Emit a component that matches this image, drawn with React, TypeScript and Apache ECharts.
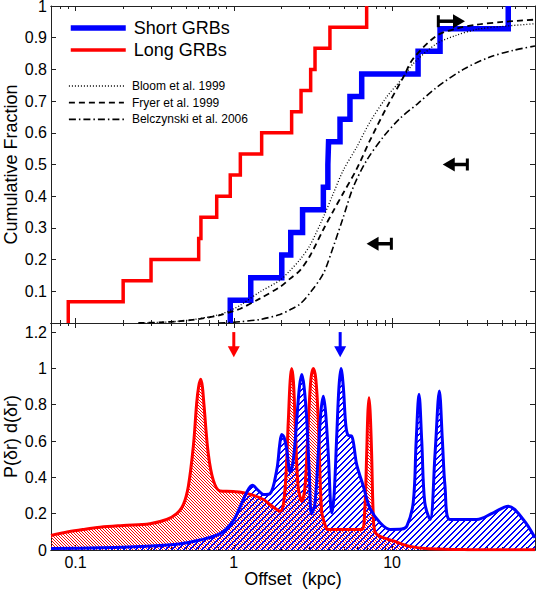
import React, { useEffect, useRef } from 'react';
import * as echarts from 'echarts';

// ---------- data ----------
// offsets (kpc) of the steps of the cumulative distributions
const shortOffsets = [0.95, 1.28, 2.01, 2.29, 2.72, 3.68, 3.93, 3.97, 4.69, 5.42, 6.43, 14.6, 20.1, 54.2];
const longOffsets = [0.09, 0.2, 0.3, 0.6, 0.62, 0.78, 0.95, 1.1, 1.5, 2.32, 2.66, 3.06, 3.26, 4.05, 6.91];

// model cumulative distributions
const modelX = [0.25, 0.34, 0.46, 0.61, 0.82, 1.0, 1.1, 1.46, 1.96, 2.27, 2.62, 3.03, 3.68, 4.25, 4.92, 5.98, 7.25, 9.24, 11.8, 13.6, 19.1, 25.6, 34.2, 50.4, 80];
const bloom = [0, 0.002, 0.006, 0.014, 0.027, 0.045, 0.056, 0.098, 0.135, 0.166, 0.2, 0.245, 0.334, 0.408, 0.482, 0.555, 0.634, 0.713, 0.776, 0.818, 0.881, 0.908, 0.926, 0.936, 0.944];
const fryer = [0, 0.002, 0.006, 0.013, 0.025, 0.038, 0.045, 0.077, 0.114, 0.14, 0.166, 0.212, 0.295, 0.353, 0.41, 0.486, 0.576, 0.68, 0.776, 0.834, 0.906, 0.929, 0.941, 0.95, 0.957];
const belczynskiX = [0.8, 1.0, 1.1, 1.46, 1.96, 2.27, 2.62, 3.03, 3.68, 4.25, 4.92, 5.69, 6.91, 8.8, 11.2, 14.6, 19.1, 28.2, 41.5, 58.3, 80];
const belczynski = [0, 0.002, 0.004, 0.011, 0.027, 0.042, 0.06, 0.095, 0.156, 0.24, 0.334, 0.429, 0.513, 0.587, 0.645, 0.693, 0.743, 0.8, 0.839, 0.86, 0.874];

// limit arrows in the upper panel: bar end, arrow tip, fraction
const limitFrom = [9.9, 29.9, 19.6];
const limitTo = [6.9, 20.9, 28.9];
const limitY = [0.25, 0.5, 0.952];

// probability distributions (lower panel)
const longPdfX = [0.07, 0.09, 0.112, 0.143, 0.2, 0.295, 0.377, 0.436, 0.48, 0.516, 0.555, 0.583, 0.6, 0.618, 0.633, 0.648, 0.69, 0.742, 0.818, 0.99, 1.21, 1.54, 1.69, 1.96, 2.1, 2.21, 2.27, 2.32, 2.38, 2.44, 2.55, 2.69, 2.82, 2.96, 3.07, 3.18, 3.3, 3.42, 3.59, 3.8, 3.95, 6.4, 6.7, 6.91, 7.03, 7.15, 7.28, 7.43, 7.6, 7.8, 8.4, 10.2, 13, 17, 30, 80];
const longPdfY = [0.08, 0.1, 0.113, 0.125, 0.135, 0.145, 0.168, 0.2, 0.25, 0.35, 0.57, 0.81, 0.9, 0.94, 0.9, 0.8, 0.53, 0.385, 0.325, 0.322, 0.312, 0.278, 0.25, 0.214, 0.32, 0.71, 0.93, 1.0, 0.93, 0.71, 0.35, 0.27, 0.35, 0.71, 0.94, 1.0, 0.94, 0.71, 0.214, 0.13, 0.113, 0.113, 0.2, 0.526, 0.75, 0.838, 0.75, 0.526, 0.2, 0.1, 0.075, 0.05, 0.02, 0.007, 0.002, 0.001];
const shortPdfX = [0.07, 0.143, 0.3, 0.46, 0.61, 0.82, 0.99, 1.1, 1.21, 1.31, 1.42, 1.54, 1.69, 1.87, 1.95, 2.01, 2.08, 2.16, 2.27, 2.38, 2.5, 2.6, 2.69, 2.78, 2.89, 3.0, 3.1, 3.25, 3.42, 3.55, 3.68, 3.8, 3.95, 4.16, 4.3, 4.47, 4.62, 4.76, 4.92, 5.11, 5.3, 5.56, 5.98, 6.58, 7.25, 8.4, 9.7, 11.5, 12.4, 13.6, 14.2, 14.8, 15.4, 16.1, 17.4, 18.7, 19.9, 20.8, 21.6, 23.2, 34.2, 43.6, 54.2, 67.4, 80];
const shortPdfY = [0.008, 0.012, 0.022, 0.035, 0.055, 0.09, 0.16, 0.24, 0.32, 0.357, 0.33, 0.306, 0.31, 0.443, 0.58, 0.636, 0.62, 0.554, 0.43, 0.5, 0.719, 0.9, 0.967, 0.9, 0.719, 0.42, 0.2, 0.25, 0.535, 0.76, 0.847, 0.76, 0.535, 0.205, 0.3, 0.627, 0.9, 1.0, 0.9, 0.682, 0.63, 0.627, 0.47, 0.352, 0.23, 0.15, 0.113, 0.115, 0.131, 0.26, 0.6, 0.857, 0.6, 0.26, 0.168, 0.535, 0.875, 0.6, 0.352, 0.168, 0.168, 0.205, 0.241, 0.168, 0.067];

// median arrows (lower panel): offset, arrow top, arrow tip
const medianX = [1.0, 4.7];
const medianTop = [1.2, 1.2];
const medianTip = [1.061, 1.061];
const medianColors = ['#ff0000', '#0000ff'];

// axis range and ticks (kpc)
const xMin = 0.07;
const xMax = 80;
const xMinorTicks = [0.08, 0.09, 0.2, 0.3, 0.4, 0.5, 0.6, 0.7, 0.8, 0.9, 2, 3, 4, 5, 6, 7, 8, 9, 20, 30, 40, 50, 60, 70];
const xMajorTicks = [0.1, 1, 10];
const xTickLabels = [0.1, 1, 10];

const FONT = "'Liberation Sans', Arial, Helvetica, sans-serif";
const AXIS_COLOR = '#222';

function zip(xs: number[], ys: number[]) {
  return xs.map((x, i) => [x, ys[i]]);
}

function stairs(offsets: number[]) {
  const n = offsets.length;
  const pts: number[][] = [[offsets[0], 0]];
  offsets.forEach((x, i) => {
    if (i > 0) pts.push([x, i / n]);
    pts.push([x, (i + 1) / n]);
  });
  return pts;
}

function hatch(color: string, size: number, width: number, forward: boolean) {
  const c = document.createElement('canvas');
  c.width = size;
  c.height = size;
  const ctx = c.getContext('2d')!;
  ctx.fillStyle = color;
  for (let i = 0; i < size; i++) {
    for (let j = 0; j < size; j++) {
      const k = forward ? (i + j) % size : (((i - j) % size) + size) % size;
      if (k < width) ctx.fillRect(i, j, 1, 1);
    }
  }
  return { image: c.toDataURL(), repeat: 'repeat', imageWidth: size, imageHeight: size };
}

function xAxis(gridIndex: number, position: string, ticks: number[], len: number, labels: boolean, name?: string) {
  return {
    type: 'log',
    logBase: 10,
    gridIndex,
    position,
    min: xMin,
    max: xMax,
    name: name || '',
    nameLocation: 'middle',
    nameGap: 20,
    nameMoveOverlap: false,
    nameTextStyle: { fontSize: 18, color: '#000', fontFamily: FONT },
    axisLine: { show: true, onZero: false, lineStyle: { color: AXIS_COLOR, width: 1 } },
    axisTick: { show: true, inside: true, length: len, customValues: ticks, lineStyle: { color: AXIS_COLOR, width: 1 } },
    axisLabel: labels
      ? { show: true, customValues: xTickLabels, fontSize: 16, color: '#000', fontFamily: FONT, margin: 4 }
      : { show: false },
    splitLine: { show: false },
    minorTick: { show: false },
    minorSplitLine: { show: false },
  };
}

function yAxis(gridIndex: number, position: string, max: number, interval: number, labels: boolean, name?: string, hideMin?: boolean) {
  return {
    type: 'value',
    gridIndex,
    position,
    min: 0,
    max,
    interval,
    name: name || '',
    nameLocation: 'middle',
    nameGap: 31,
    nameMoveOverlap: false,
    nameTextStyle: { fontSize: 18, color: '#000', fontFamily: FONT, lineHeight: 18 },
    axisLine: { show: true, onZero: false, lineStyle: { color: AXIS_COLOR, width: 1 } },
    axisTick: { show: true, inside: true, length: 5, lineStyle: { color: AXIS_COLOR, width: 1 } },
    axisLabel: labels
      ? {
          show: true,
          fontSize: 16,
          lineHeight: 12,
          color: '#000',
          fontFamily: FONT,
          margin: 4,
          showMinLabel: !hideMin,
          showMaxLabel: max === 1,
        }
      : { show: false },
    splitLine: { show: false },
  };
}

export default function App() {
  const ref = useRef<HTMLDivElement>(null);

  useEffect(() => {
    document.body.style.margin = '0';
    const chart = echarts.init(ref.current!, undefined, { renderer: 'svg' });

    const redHatch = hatch('#ff0000', 3, 1, false);
    const blueHatch = hatch('#0000ff', 6, 2, true);

    const arrowData = limitY.map((y, i) => [limitFrom[i], limitTo[i], y]);
    const medianData = medianX.map((x, i) => [x, medianTop[i], medianTip[i]]);

    const legendCommon = {
      orient: 'vertical',
      left: 68,
      padding: 0,
      itemWidth: 55,
      selectedMode: false,
      lineStyle: { width: 'inherit' },
      itemStyle: { opacity: 0 },
    };

    const option: any = {
      animation: false,
      backgroundColor: '#fff',
      textStyle: { fontFamily: FONT },
      grid: [
        { left: 51, top: 6, width: 484, height: 317, containLabel: false, outerBoundsMode: 'none' },
        { left: 51, top: 323, width: 484, height: 227, containLabel: false, outerBoundsMode: 'none' },
      ],
      xAxis: [
        xAxis(0, 'bottom', xMinorTicks, 3, false),
        xAxis(0, 'bottom', xMajorTicks, 5, false),
        xAxis(0, 'top', xMinorTicks, 3, false),
        xAxis(0, 'top', xMajorTicks, 5, false),
        xAxis(1, 'bottom', xMinorTicks, 3, false),
        xAxis(1, 'bottom', xMajorTicks, 5, true, 'Offset  (kpc)'),
        xAxis(1, 'top', xMinorTicks, 3, false),
        xAxis(1, 'top', xMajorTicks, 5, false),
      ],
      yAxis: [
        yAxis(0, 'left', 1, 0.1, true, 'Cumulative Fraction', true),
        yAxis(0, 'right', 1, 0.1, false),
        yAxis(1, 'left', 1.25, 0.2, true, 'P(δr) d(δr)', false),
        yAxis(1, 'right', 1.25, 0.2, false),
      ],
      legend: [
        {
          ...legendCommon,
          data: ['Short GRBs', 'Long GRBs'],
          top: 19,
          itemHeight: 18,
          itemGap: 4,
          textStyle: { fontSize: 18, color: '#000', fontFamily: FONT, padding: [0, 0, 0, 3] },
        },
        {
          ...legendCommon,
          data: ['Bloom et al. 1999', 'Fryer et al. 1999', 'Belczynski et al. 2006'],
          top: 80,
          itemHeight: 12,
          itemGap: 4.7,
          textStyle: { fontSize: 12, color: '#000', fontFamily: FONT, padding: [0, 0, 0, 3] },
        },
      ],
      series: [
        {
          name: 'Short GRBs',
          type: 'line',
          xAxisIndex: 0,
          yAxisIndex: 0,
          data: stairs(shortOffsets),
          symbol: 'none',
          color: '#0000ff',
          lineStyle: { color: '#0000ff', width: 5.5, join: 'miter' },
          z: 2,
        },
        {
          name: 'Long GRBs',
          type: 'line',
          xAxisIndex: 0,
          yAxisIndex: 0,
          data: stairs(longOffsets),
          symbol: 'none',
          color: '#ff0000',
          lineStyle: { color: '#ff0000', width: 3.5, join: 'miter' },
          z: 2,
        },
        {
          name: 'Bloom et al. 1999',
          type: 'line',
          xAxisIndex: 0,
          yAxisIndex: 0,
          data: zip(modelX, bloom),
          symbol: 'none',
          smooth: 0.3,
          color: '#000',
          lineStyle: { color: '#000', width: 1.3, type: [1, 2] },
          z: 3,
        },
        {
          name: 'Fryer et al. 1999',
          type: 'line',
          xAxisIndex: 0,
          yAxisIndex: 0,
          data: zip(modelX, fryer),
          symbol: 'none',
          smooth: 0.3,
          color: '#000',
          lineStyle: { color: '#000', width: 1.8, type: [6, 4] },
          z: 3,
        },
        {
          name: 'Belczynski et al. 2006',
          type: 'line',
          xAxisIndex: 0,
          yAxisIndex: 0,
          data: zip(belczynskiX, belczynski),
          symbol: 'none',
          smooth: 0.3,
          color: '#000',
          lineStyle: { color: '#000', width: 1.6, type: [7, 3, 1.5, 3] },
          z: 3,
        },
        {
          name: 'limits',
          type: 'custom',
          xAxisIndex: 0,
          yAxisIndex: 0,
          encode: { x: [0, 1], y: 2 },
          data: arrowData,
          z: 4,
          renderItem: (params: any, api: any) => {
            const y = api.value(2);
            const p0 = api.coord([api.value(0), y]);
            const p1 = api.coord([api.value(1), y]);
            const dir = p1[0] > p0[0] ? 1 : -1;
            const head = 12;
            const half = 7;
            return {
              type: 'group',
              children: [
                {
                  type: 'line',
                  shape: { x1: p0[0], y1: p0[1], x2: p1[0] - dir * (head - 1), y2: p1[1] },
                  style: { stroke: '#000', lineWidth: 3.5 },
                },
                {
                  type: 'line',
                  shape: { x1: p0[0], y1: p0[1] - 6, x2: p0[0], y2: p0[1] + 6 },
                  style: { stroke: '#000', lineWidth: 3 },
                },
                {
                  type: 'polygon',
                  shape: { points: [[p1[0], p1[1]], [p1[0] - dir * head, p1[1] - half], [p1[0] - dir * head, p1[1] + half]] },
                  style: { fill: '#000' },
                },
              ],
            };
          },
        },
        // lower panel: hatched areas
        {
          name: 'Long PDF area',
          type: 'line',
          xAxisIndex: 4,
          yAxisIndex: 2,
          data: zip(longPdfX, longPdfY),
          symbol: 'none',
          smooth: 0.35,
          lineStyle: { width: 0 },
          areaStyle: { color: redHatch, opacity: 1 },
          z: 1,
        },
        {
          name: 'Short PDF area',
          type: 'line',
          xAxisIndex: 4,
          yAxisIndex: 2,
          data: zip(shortPdfX, shortPdfY),
          symbol: 'none',
          smooth: 0.35,
          lineStyle: { width: 0 },
          areaStyle: { color: blueHatch, opacity: 1 },
          z: 1,
        },
        {
          name: 'Long PDF',
          type: 'line',
          xAxisIndex: 4,
          yAxisIndex: 2,
          data: zip(longPdfX, longPdfY),
          symbol: 'none',
          smooth: 0.35,
          lineStyle: { color: '#ff0000', width: 3 },
          z: 2,
        },
        {
          name: 'Short PDF',
          type: 'line',
          xAxisIndex: 4,
          yAxisIndex: 2,
          data: zip(shortPdfX, shortPdfY),
          symbol: 'none',
          smooth: 0.35,
          lineStyle: { color: '#0000ff', width: 3 },
          z: 2,
        },
        {
          name: 'medians',
          type: 'custom',
          xAxisIndex: 4,
          yAxisIndex: 2,
          encode: { x: 0, y: [1, 2] },
          data: medianData,
          z: 4,
          renderItem: (params: any, api: any) => {
            const x = api.value(0);
            const pTop = api.coord([x, api.value(1)]);
            const pTip = api.coord([x, api.value(2)]);
            const color = medianColors[params.dataIndex];
            const head = 11;
            const half = 6;
            return {
              type: 'group',
              children: [
                {
                  type: 'line',
                  shape: { x1: pTop[0], y1: pTop[1], x2: pTip[0], y2: pTip[1] - head + 1 },
                  style: { stroke: color, lineWidth: 3 },
                },
                {
                  type: 'polygon',
                  shape: { points: [[pTip[0], pTip[1]], [pTip[0] - half, pTip[1] - head], [pTip[0] + half, pTip[1] - head]] },
                  style: { fill: color },
                },
              ],
            };
          },
        },
      ],
    };

    chart.setOption(option);
    return () => chart.dispose();
  }, []);

  return <div ref={ref} style={{ width: 536, height: 592 }} />;
}
